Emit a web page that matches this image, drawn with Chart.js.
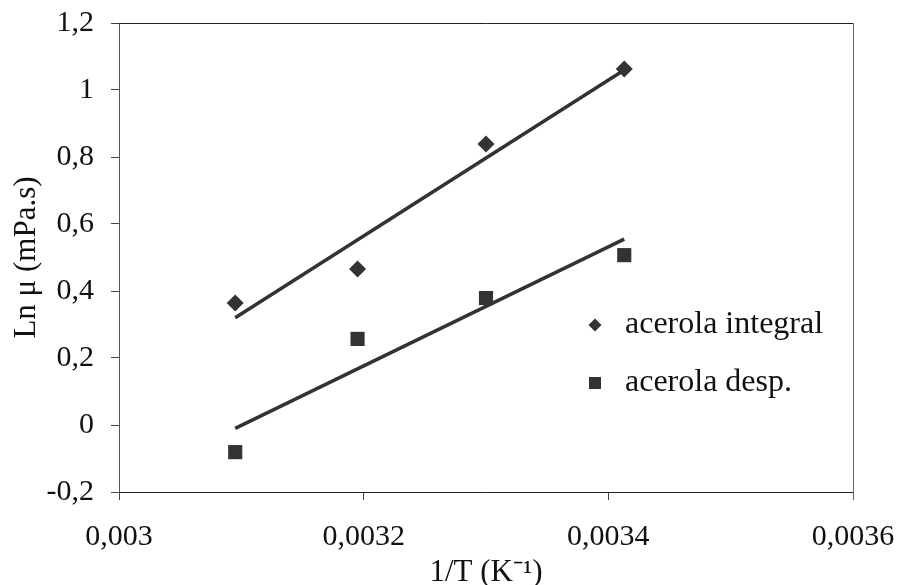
<!DOCTYPE html>
<html>
<head>
<meta charset="utf-8">
<script src="https://cdn.jsdelivr.net/npm/chart.js@4.4.0/dist/chart.umd.min.js"></script>
<style>
  html, body { margin: 0; padding: 0; background: #fff; }
  #caixa { width: 900px; height: 585px; }
</style>
</head>
<body>
<div id="caixa"><canvas id="graficoViscosidade"></canvas></div>
<script>
const inversoT = [0.003095, 0.003195, 0.0033, 0.003413];
const lnIntegral = [0.364, 0.466, 0.839, 1.063];
const lnDesp = [-0.081, 0.257, 0.379, 0.507];
// linhas de tendencia: valor no primeiro e no ultimo ponto
const tendIntegral = [0.32, 1.06];
const tendDesp = [-0.01, 0.555];
const xTicks = [0.003, 0.0032, 0.0034, 0.0036];
const xLabels = ['0,003', '0,0032', '0,0034', '0,0036'];
const yTicks = [-0.2, 0, 0.2, 0.4, 0.6, 0.8, 1, 1.2];
const yLabels = ['-0,2', '0', '0,2', '0,4', '0,6', '0,8', '1', '1,2'];
const nomes = ['acerola integral', 'acerola desp.'];

const cor = '#333';
const familia = "'Liberation Serif', 'Times New Roman', serif";
const fonteTicks = { family: familia, size: 30 };
const fonteTitulo = { family: familia, size: 31 };

function pontos(xs, ys) {
    return xs.map((x, i) => ({ x: x, y: ys[i] }));
}

// moldura de cima e da direita
const moldura = {
    id: 'moldura',
    afterDraw(chart) {
        const { ctx, chartArea } = chart;
        ctx.save();
        ctx.lineWidth = 1;
        ctx.strokeStyle = '#222';
        ctx.beginPath();
        ctx.moveTo(chartArea.left, chartArea.top + 0.5);
        ctx.lineTo(chartArea.right + 0.5, chartArea.top + 0.5);
        ctx.stroke();
        ctx.strokeStyle = '#666';
        ctx.beginPath();
        ctx.moveTo(chartArea.right + 0.5, chartArea.top + 0.5);
        ctx.lineTo(chartArea.right + 0.5, chartArea.bottom + 8);
        ctx.stroke();
        ctx.restore();
    }
};

// legenda dentro da area do grafico
const legenda = {
    id: 'legenda',
    afterDraw(chart) {
        const { ctx, chartArea } = chart;
        const x = chartArea.left + 476;
        const ys = [chartArea.top + 302, chartArea.top + 360];
        ctx.save();
        ctx.fillStyle = cor;
        // losango
        ctx.beginPath();
        ctx.moveTo(x, ys[0] - 6.5);
        ctx.lineTo(x + 6.5, ys[0]);
        ctx.lineTo(x, ys[0] + 6.5);
        ctx.lineTo(x - 6.5, ys[0]);
        ctx.closePath();
        ctx.fill();
        // quadrado
        ctx.fillRect(x - 6, ys[1] - 6, 12, 12);
        ctx.fillStyle = '#111';
        ctx.font = '32px ' + familia;
        ctx.textBaseline = 'middle';
        ctx.textAlign = 'left';
        ctx.fillText(nomes[0], x + 30, ys[0]);
        ctx.fillText(nomes[1], x + 30, ys[1]);
        ctx.restore();
    }
};

const canva = document.getElementById('graficoViscosidade').getContext('2d');
const grafico = new Chart(canva, {
    type: 'scatter',
    data: {
        datasets: [{
            label: nomes[0],
            data: pontos(inversoT, lnIntegral),
            pointStyle: 'rectRot',
            pointRadius: 8.5,
            backgroundColor: cor,
            borderColor: cor,
            borderWidth: 0
        }, {
            label: nomes[1],
            data: pontos(inversoT, lnDesp),
            pointStyle: 'rect',
            pointRadius: 10,
            backgroundColor: cor,
            borderColor: cor,
            borderWidth: 0
        }, {
            type: 'line',
            label: 'tendencia integral',
            data: pontos([inversoT[0], inversoT[3]], tendIntegral),
            borderColor: cor,
            borderWidth: 3.5,
            pointRadius: 0
        }, {
            type: 'line',
            label: 'tendencia desp',
            data: pontos([inversoT[0], inversoT[3]], tendDesp),
            borderColor: cor,
            borderWidth: 3.5,
            pointRadius: 0
        }]
    },
    options: {
        responsive: true,
        maintainAspectRatio: false,
        animation: false,
        events: [],
        layout: { padding: { left: 0, right: 47, top: 23, bottom: 0 } },
        plugins: {
            legend: { display: false },
            tooltip: { enabled: false }
        },
        scales: {
            x: {
                type: 'linear',
                min: 0.003,
                max: 0.0036,
                afterBuildTicks: s => { s.ticks = xTicks.map(v => ({ value: v })); },
                afterFit: s => {
                    s.height = 93;
                    s.paddingLeft = 0;
                    s.paddingRight = 0;
                },
                grid: { drawOnChartArea: false, drawTicks: true, tickLength: 8, color: '#444' },
                border: { display: true, color: '#222', width: 1 },
                ticks: {
                    font: fonteTicks,
                    color: '#111',
                    padding: 19,
                    maxRotation: 0,
                    callback: (v, i) => xLabels[i]
                },
                title: {
                    display: true,
                    text: '1/T (K⁻¹)',
                    font: fonteTitulo,
                    color: '#111',
                    padding: { top: 0, bottom: -6 }
                }
            },
            y: {
                min: -0.2,
                max: 1.2,
                afterBuildTicks: s => { s.ticks = yTicks.map(v => ({ value: v })); },
                afterFit: s => {
                    s.width = 119;
                    s.paddingTop = 0;
                    s.paddingBottom = 0;
                },
                grid: { drawOnChartArea: false, drawTicks: true, tickLength: 8, color: '#444' },
                border: { display: true, color: '#555', width: 1 },
                ticks: {
                    font: fonteTicks,
                    color: '#111',
                    padding: 17,
                    callback: (v, i) => yLabels[i]
                },
                title: {
                    display: true,
                    text: 'Ln μ (mPa.s)',
                    font: fonteTitulo,
                    color: '#111',
                    padding: { top: 8, bottom: 0 }
                }
            }
        }
    },
    plugins: [moldura, legenda]
});
</script>
</body>
</html>
